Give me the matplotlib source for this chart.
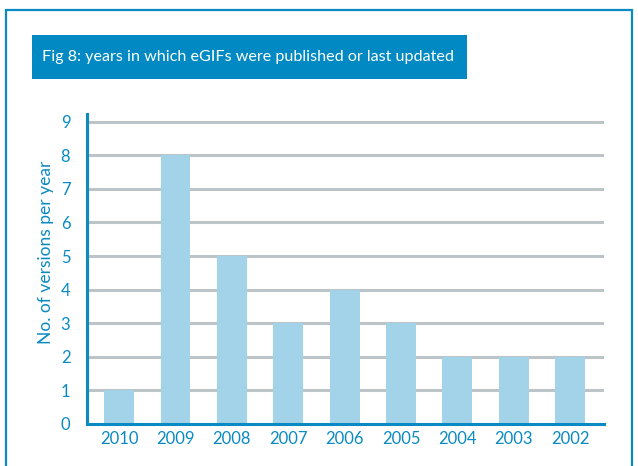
import matplotlib
matplotlib.use("Agg")
import matplotlib.pyplot as plt
from matplotlib.patches import Rectangle

# data
years = ["2010", "2009", "2008", "2007", "2006", "2005", "2004", "2003", "2002"]
versions = [1, 8, 5, 3, 4, 3, 2, 2, 2]
y_ticks = list(range(0, 10))

BLUE = "#0a8ac2"
BAR = "#a2d3e8"
GRID = "#bcc4c7"

plt.rcParams["font.family"] = ["Lato", "DejaVu Sans"]

W, H = 638, 466
fig = plt.figure(figsize=(W / 100, H / 100), dpi=100, facecolor="white")

# outer frame (runs off the bottom)
fig.patches.append(Rectangle((6 / W, -0.05), (632 - 6) / W, 1.05 - 10 / H,
                             transform=fig.transFigure, fill=False,
                             edgecolor=BLUE, linewidth=1.6))

# title box
fig.patches.append(Rectangle((32 / W, 1 - 79 / H), (467 - 32) / W, 44 / H,
                             transform=fig.transFigure, facecolor="#0089c2",
                             edgecolor="none"))
fig.text(42 / W, 1 - 57.5 / H, "Fig 8: years in which eGIFs were published or last updated",
         color="white", fontsize=11.6, va="center", ha="left", zorder=5)

ax = fig.add_axes([87 / W, 1 - 424 / H, (604 - 87) / W, (424 - 114) / H])
x = range(len(years))
ax.bar(x, versions, width=0.53, color=BAR, zorder=2)
ax.set_xlim(-0.57, len(years) - 0.4)
ax.set_ylim(0, 9.23)
ax.set_yticks(y_ticks)
ax.set_xticks(list(x))
ax.set_xticklabels(years)
for t in y_ticks[1:]:
    ax.axhline(t, color=GRID, linewidth=2.2, zorder=1)

for s in ["top", "right"]:
    ax.spines[s].set_visible(False)
for s in ["left", "bottom"]:
    ax.spines[s].set_color(BLUE)
    ax.spines[s].set_linewidth(2.2)
    ax.spines[s].set_zorder(3)
ax.tick_params(length=0, colors=BLUE, labelsize=12)
ax.tick_params(axis="y", pad=12)
ax.tick_params(axis="x", pad=5)
ax.set_ylabel("No. of versions per year", color=BLUE, fontsize=12.5)
ax.yaxis.set_label_coords(-0.063, 0.555)

fig.savefig("out.png", dpi=100, facecolor="white")
